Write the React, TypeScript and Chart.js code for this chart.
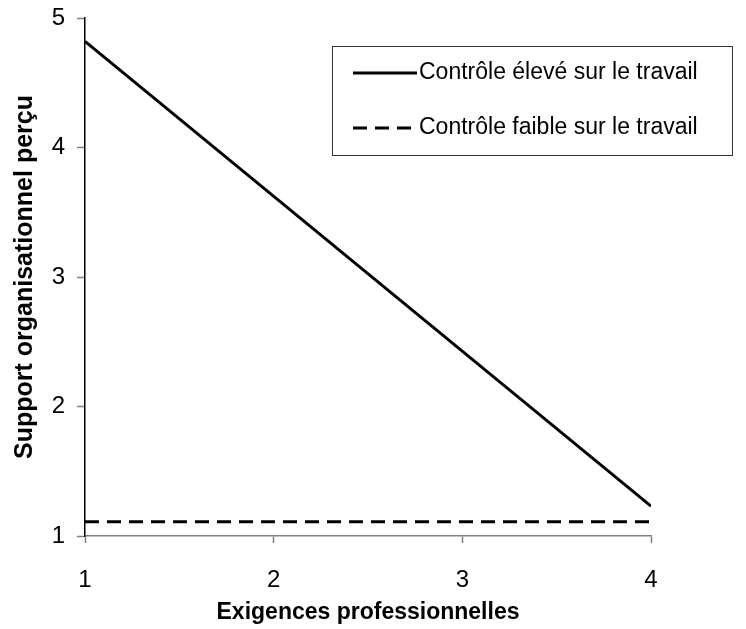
import React, { useEffect, useRef } from "react";
import { Chart, registerables } from "chart.js";

Chart.register(...registerables);

const xValues = [1, 4];
const highControl = [4.82, 1.23];
const lowControl = [1.11, 1.11];
const seriesLabels = ["Contrôle élevé sur le travail", "Contrôle faible sur le travail"];
const xTitle = "Exigences professionnelles";
const yTitle = "Support organisationnel perçu";

const FONT = "'Liberation Sans', Arial, sans-serif";

const legendPlugin = {
  id: "boxLegend",
  afterDraw(chart: any) {
    const ctx = chart.ctx;
    ctx.save();
    const bx = 332, by = 46, bw = 400, bh = 109;
    ctx.strokeStyle = "#333";
    ctx.lineWidth = 1;
    ctx.strokeRect(bx + 0.5, by + 0.5, bw, bh);
    const rows = [73, 128];
    chart.data.datasets.forEach((ds: any, i: number) => {
      const y = rows[i];
      ctx.beginPath();
      ctx.setLineDash(ds.borderDash || []);
      ctx.lineWidth = ds.borderWidth;
      ctx.strokeStyle = ds.borderColor;
      ctx.moveTo(353, y);
      ctx.lineTo(417, y);
      ctx.stroke();
      ctx.setLineDash([]);
      ctx.fillStyle = "#000";
      ctx.font = `23px ${FONT}`;
      ctx.textAlign = "left";
      ctx.textBaseline = "middle";
      ctx.fillText(ds.label, 419, y);
    });
    ctx.restore();
  },
};

export default function App() {
  const ref = useRef<HTMLCanvasElement>(null);
  useEffect(() => {
    const chart = new Chart(ref.current!, {
      type: "line",
      data: {
        datasets: [
          {
            label: seriesLabels[0],
            data: xValues.map((x, i) => ({ x, y: highControl[i] })),
            borderColor: "#000",
            borderWidth: 3,
            pointRadius: 0,
            fill: false,
          },
          {
            label: seriesLabels[1],
            data: xValues.map((x, i) => ({ x, y: lowControl[i] })),
            borderColor: "#000",
            borderWidth: 3,
            borderDash: [14, 8],
            pointRadius: 0,
            fill: false,
          },
        ],
      },
      options: {
        animation: false,
        responsive: false,
        layout: { padding: { top: 18, right: 95, left: 0, bottom: 0 } },
        plugins: { legend: { display: false }, tooltip: { enabled: false } },
        scales: {
          x: {
            type: "linear",
            min: 1,
            max: 4,
            afterFit: (s: any) => { s.height = 93; s.paddingLeft = 0; s.paddingRight = 0; },
            ticks: { stepSize: 1, color: "#000", font: { size: 24, family: FONT }, padding: 23 },
            grid: { drawOnChartArea: false, drawTicks: true, tickLength: 7, tickColor: "#808080", tickWidth: 1.5 },
            border: { color: "#808080", width: 1.5 },
            title: { display: true, text: xTitle, color: "#000", font: { size: 23, weight: "bold", family: FONT }, padding: { top: 0, bottom: 3 } },
          },
          y: {
            type: "linear",
            min: 1,
            max: 5,
            afterFit: (s: any) => { s.width = 85; s.paddingTop = 0; s.paddingBottom = 0; },
            ticks: { stepSize: 1, color: "#000", font: { size: 24, family: FONT }, padding: 12 },
            grid: { drawOnChartArea: false, drawTicks: true, tickLength: 8, tickColor: "#808080", tickWidth: 1.5 },
            border: { color: "#000", width: 1.5 },
            title: { display: true, text: yTitle, color: "#000", font: { size: 25, weight: "bold", family: FONT }, padding: { top: 10, bottom: 0 } },
          },
        },
      },
      plugins: [legendPlugin],
    } as any);
    return () => chart.destroy();
  }, []);
  return (
    <div style={{ position: "fixed", left: 0, top: 0, width: 746, height: 629, background: "#fff" }}>
      <canvas ref={ref} width={746} height={629} style={{ display: "block" }} />
    </div>
  );
}
